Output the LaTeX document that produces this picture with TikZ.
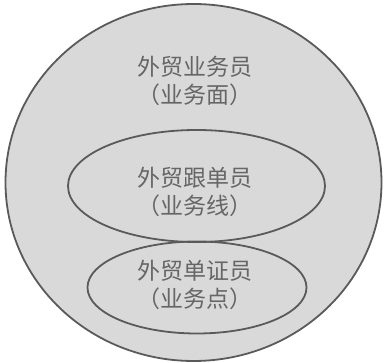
\documentclass[tikz,border=0pt]{standalone}
\usepackage{fontspec}
\newfontfamily\cjk{Noto Sans CJK SC}
\definecolor{fillgray}{HTML}{D9D9D9}
\definecolor{linegray}{HTML}{5A5A5A}
\definecolor{textgray}{HTML}{666666}
\tikzset{
  region/.style={draw=linegray, line width=1.8pt},
  label/.style={text=textgray, font=\cjk\fontsize{23}{28}\selectfont, align=center, inner sep=0pt}
}
\begin{document}
\begin{tikzpicture}[x=1pt,y=-1pt]
\useasboundingbox (0,0) rectangle (384,363);
\fill[white] (0,0) rectangle (384,363);
\draw[region, fill=fillgray] (193.5,182.5) ellipse [x radius=188, y radius=178.5];
\draw[region] (197,287.5) ellipse [x radius=109.5, y radius=46];
\draw[region] (196.5,186) ellipse [x radius=128.5, y radius=56];
\node[label] (outer) at (195,81) {外贸业务员\\（业务面）};
\node[label] (middle) at (195,192) {外贸跟单员\\（业务线）};
\node[label] (inner) at (195,285) {外贸单证员\\（业务点）};
\end{tikzpicture}
\end{document}
